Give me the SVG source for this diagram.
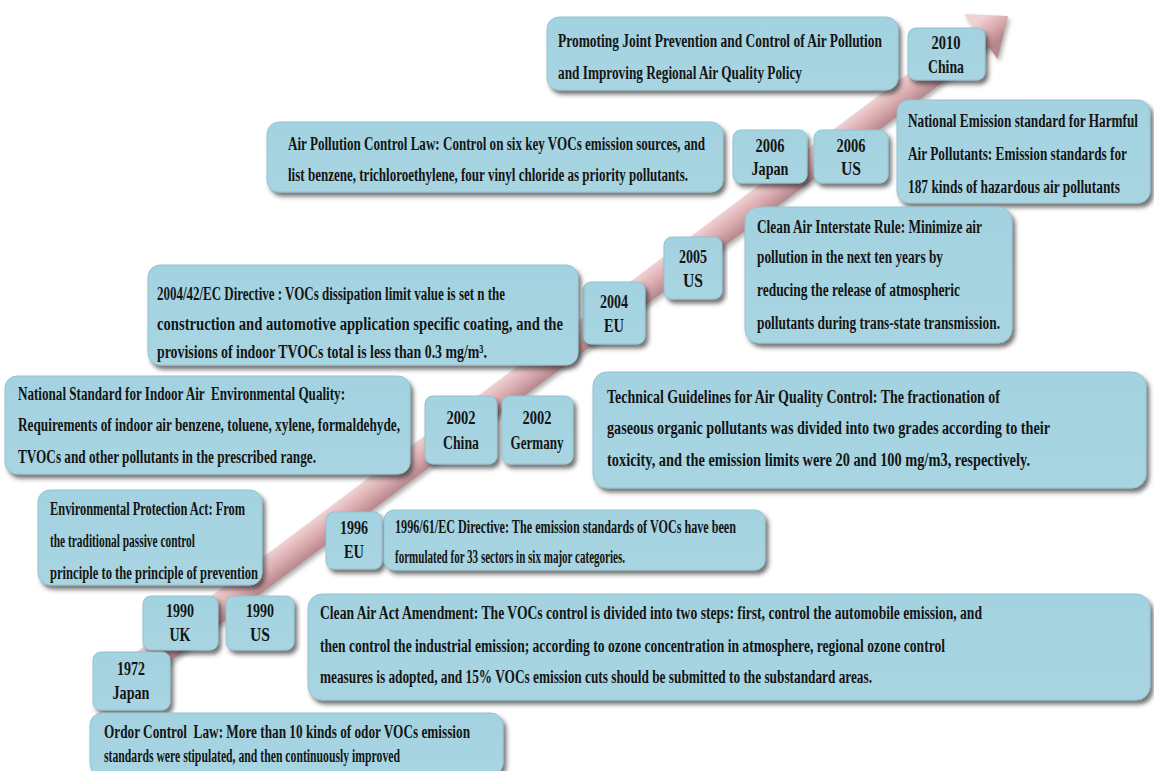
<svg xmlns="http://www.w3.org/2000/svg" width="1154" height="771" viewBox="0 0 1154 771">
<defs>
<filter id="sh" x="-10%" y="-20%" width="120%" height="150%">
<feDropShadow dx="3" dy="4" stdDeviation="2.2" flood-color="#2a2a2a" flood-opacity="0.65"/>
</filter>
<filter id="ash" x="-5%" y="-5%" width="110%" height="110%">
<feDropShadow dx="2" dy="3" stdDeviation="2" flood-color="#555" flood-opacity="0.45"/>
</filter>
<linearGradient id="ag" gradientUnits="userSpaceOnUse" x1="126.6" y1="659.2" x2="143.4" y2="681.6">
<stop offset="0" stop-color="#efd3d4"/>
<stop offset="0.5" stop-color="#dcadb1"/>
<stop offset="1" stop-color="#b6878d"/>
</linearGradient>
<linearGradient id="bg" x1="0" y1="0" x2="0" y2="1">
<stop offset="0" stop-color="#a3d2e0"/>
<stop offset="1" stop-color="#a9d5e2"/>
</linearGradient>
</defs>
<style>
.box{fill:url(#bg);stroke:#93c3d1;stroke-width:1;filter:url(#sh)}
.t{font-family:"Liberation Serif","Times New Roman",serif;font-weight:bold;font-size:13.5px;fill:#141414}
.y{font-family:"Liberation Serif","Times New Roman",serif;font-weight:bold;font-size:19px;fill:#141414;text-anchor:middle}
</style>
<rect width="1154" height="771" fill="#ffffff"/>
<g id="connectors">
<polygon id="timeline-arrow" points="126.6,659.2 972.4,25.2 964,14 1008,16 997.6,58.8 989.2,47.6 143.4,681.6" fill="url(#ag)" filter="url(#ash)"/>
</g>
<g id="n2010text">
<rect class="box" x="547" y="17" width="351" height="73" rx="12"/>
<text class="t" x="558" y="47" transform="matrix(1 0 0 1.42 0 -19.74)" textLength="324" lengthAdjust="spacingAndGlyphs">Promoting Joint Prevention and Control of Air Pollution</text>
<text class="t" x="558" y="79" transform="matrix(1 0 0 1.42 0 -33.18)" textLength="244" lengthAdjust="spacingAndGlyphs">and Improving Regional Air Quality Policy</text>
</g>
<g id="n2010">
<rect class="box" x="908" y="28" width="77" height="52" rx="8"/>
<text class="y" x="946" y="49" textLength="29" lengthAdjust="spacingAndGlyphs">2010</text>
<text class="y" x="946" y="73" textLength="36" lengthAdjust="spacingAndGlyphs">China</text>
</g>
<g id="n2006jptext">
<rect class="box" x="267" y="122" width="456" height="70" rx="12"/>
<text class="t" x="288" y="150" transform="matrix(1 0 0 1.42 0 -63)" textLength="417" lengthAdjust="spacingAndGlyphs">Air Pollution Control Law: Control on six key VOCs emission sources, and</text>
<text class="t" x="288" y="181" transform="matrix(1 0 0 1.42 0 -76.02)" textLength="400" lengthAdjust="spacingAndGlyphs">list benzene, trichloroethylene, four vinyl chloride as priority pollutants.</text>
</g>
<g id="n2006jp">
<rect class="box" x="733" y="130" width="74" height="53" rx="8"/>
<text class="y" x="770" y="152" textLength="29" lengthAdjust="spacingAndGlyphs">2006</text>
<text class="y" x="770" y="175" textLength="37" lengthAdjust="spacingAndGlyphs">Japan</text>
</g>
<g id="n2006us">
<rect class="box" x="814" y="130" width="74" height="53" rx="8"/>
<text class="y" x="851" y="152" textLength="29" lengthAdjust="spacingAndGlyphs">2006</text>
<text class="y" x="851" y="175" textLength="20" lengthAdjust="spacingAndGlyphs">US</text>
</g>
<g id="n2006ustext">
<rect class="box" x="897" y="100" width="253" height="103" rx="12"/>
<text class="t" x="908" y="127" transform="matrix(1 0 0 1.42 0 -53.34)" textLength="230" lengthAdjust="spacingAndGlyphs">National Emission standard for Harmful</text>
<text class="t" x="908" y="160" transform="matrix(1 0 0 1.42 0 -67.2)" textLength="219" lengthAdjust="spacingAndGlyphs">Air Pollutants: Emission standards for</text>
<text class="t" x="908" y="193" transform="matrix(1 0 0 1.42 0 -81.06)" textLength="212" lengthAdjust="spacingAndGlyphs">187 kinds of hazardous air pollutants</text>
</g>
<g id="n2005ustext">
<rect class="box" x="745" y="207" width="267" height="136" rx="14"/>
<text class="t" x="757" y="233" transform="matrix(1 0 0 1.42 0 -97.86)" textLength="225" lengthAdjust="spacingAndGlyphs">Clean Air Interstate Rule: Minimize air</text>
<text class="t" x="757" y="263" transform="matrix(1 0 0 1.42 0 -110.46)" textLength="186" lengthAdjust="spacingAndGlyphs">pollution in the next ten years by</text>
<text class="t" x="757" y="296" transform="matrix(1 0 0 1.42 0 -124.32)" textLength="203" lengthAdjust="spacingAndGlyphs">reducing the release of atmospheric</text>
<text class="t" x="757" y="329" transform="matrix(1 0 0 1.42 0 -138.18)" textLength="243" lengthAdjust="spacingAndGlyphs">pollutants during trans-state transmission.</text>
</g>
<g id="n2005us">
<rect class="box" x="664" y="237" width="58" height="62" rx="8"/>
<text class="y" x="693" y="263" textLength="28" lengthAdjust="spacingAndGlyphs">2005</text>
<text class="y" x="693" y="287" textLength="20" lengthAdjust="spacingAndGlyphs">US</text>
</g>
<g id="n2004eu">
<rect class="box" x="583" y="282" width="62" height="62" rx="8"/>
<text class="y" x="614" y="308" textLength="28" lengthAdjust="spacingAndGlyphs">2004</text>
<text class="y" x="614" y="332" textLength="20" lengthAdjust="spacingAndGlyphs">EU</text>
</g>
<g id="n2004eutext">
<rect class="box" x="148" y="265" width="430" height="100" rx="12"/>
<text class="t" x="157" y="300" transform="matrix(1 0 0 1.42 0 -126)" textLength="348" lengthAdjust="spacingAndGlyphs">2004/42/EC Directive : VOCs dissipation limit value is set n the</text>
<text class="t" x="157" y="330" transform="matrix(1 0 0 1.42 0 -138.6)" textLength="406" lengthAdjust="spacingAndGlyphs">construction and automotive application specific coating, and the</text>
<text class="t" x="157" y="358" transform="matrix(1 0 0 1.42 0 -150.36)" textLength="330" lengthAdjust="spacingAndGlyphs">provisions of indoor TVOCs total is less than 0.3 mg/m³.</text>
</g>
<g id="n2002cntext">
<rect class="box" x="5" y="376" width="405" height="98" rx="12"/>
<text class="t" x="18" y="400" transform="matrix(1 0 0 1.42 0 -168)" textLength="327" lengthAdjust="spacingAndGlyphs" xml:space="preserve">National Standard for Indoor Air  Environmental Quality:</text>
<text class="t" x="18" y="431" transform="matrix(1 0 0 1.42 0 -181.02)" textLength="382" lengthAdjust="spacingAndGlyphs">Requirements of indoor air benzene, toluene, xylene, formaldehyde,</text>
<text class="t" x="18" y="463" transform="matrix(1 0 0 1.42 0 -194.46)" textLength="298" lengthAdjust="spacingAndGlyphs">TVOCs and other pollutants in the prescribed range.</text>
</g>
<g id="n2002cn">
<rect class="box" x="425" y="396" width="72" height="68" rx="8"/>
<text class="y" x="461" y="424" textLength="29" lengthAdjust="spacingAndGlyphs">2002</text>
<text class="y" x="461" y="449" textLength="36" lengthAdjust="spacingAndGlyphs">China</text>
</g>
<g id="n2002de">
<rect class="box" x="502" y="396" width="71" height="68" rx="8"/>
<text class="y" x="537" y="424" textLength="29" lengthAdjust="spacingAndGlyphs">2002</text>
<text class="y" x="537" y="449" textLength="53" lengthAdjust="spacingAndGlyphs">Germany</text>
</g>
<g id="n2002detext">
<rect class="box" x="593" y="372" width="553" height="116" rx="14"/>
<text class="t" x="607" y="403" transform="matrix(1 0 0 1.42 0 -169.26)" textLength="393" lengthAdjust="spacingAndGlyphs">Technical Guidelines for Air Quality Control: The fractionation of</text>
<text class="t" x="607" y="434" transform="matrix(1 0 0 1.42 0 -182.28)" textLength="443" lengthAdjust="spacingAndGlyphs">gaseous organic pollutants was divided into two grades according to their</text>
<text class="t" x="607" y="466" transform="matrix(1 0 0 1.42 0 -195.72)" textLength="423" lengthAdjust="spacingAndGlyphs">toxicity, and the emission limits were 20 and 100 mg/m3, respectively.</text>
</g>
<g id="n1990uktext">
<rect class="box" x="38" y="490" width="224" height="95" rx="12"/>
<text class="t" x="50" y="515" transform="matrix(1 0 0 1.42 0 -216.3)" textLength="195" lengthAdjust="spacingAndGlyphs">Environmental Protection Act: From</text>
<text class="t" x="50" y="547" transform="matrix(1 0 0 1.42 0 -229.74)" textLength="145" lengthAdjust="spacingAndGlyphs">the traditional passive control</text>
<text class="t" x="50" y="579" transform="matrix(1 0 0 1.42 0 -243.18)" textLength="208" lengthAdjust="spacingAndGlyphs">principle to the principle of prevention</text>
</g>
<g id="n1996eu">
<rect class="box" x="326" y="512" width="56" height="57" rx="8"/>
<text class="y" x="354" y="534" textLength="28" lengthAdjust="spacingAndGlyphs">1996</text>
<text class="y" x="354" y="558" textLength="20" lengthAdjust="spacingAndGlyphs">EU</text>
</g>
<g id="n1996eutext">
<rect class="box" x="384" y="510" width="381" height="60" rx="10"/>
<text class="t" x="395" y="533" transform="matrix(1 0 0 1.42 0 -223.86)" textLength="341" lengthAdjust="spacingAndGlyphs">1996/61/EC Directive: The emission standards of VOCs have been</text>
<text class="t" x="395" y="563" transform="matrix(1 0 0 1.42 0 -236.46)" textLength="230" lengthAdjust="spacingAndGlyphs">formulated for 33 sectors in six major categories.</text>
</g>
<g id="n1990uk">
<rect class="box" x="143" y="596" width="75" height="54" rx="8"/>
<text class="y" x="180" y="617" textLength="28" lengthAdjust="spacingAndGlyphs">1990</text>
<text class="y" x="180" y="641" textLength="21" lengthAdjust="spacingAndGlyphs">UK</text>
</g>
<g id="n1990us">
<rect class="box" x="226" y="596" width="68" height="54" rx="8"/>
<text class="y" x="260" y="617" textLength="28" lengthAdjust="spacingAndGlyphs">1990</text>
<text class="y" x="260" y="641" textLength="20" lengthAdjust="spacingAndGlyphs">US</text>
</g>
<g id="n1990ustext">
<rect class="box" x="308" y="594" width="842" height="106" rx="14"/>
<text class="t" x="320" y="619" transform="matrix(1 0 0 1.42 0 -259.98)" textLength="662" lengthAdjust="spacingAndGlyphs">Clean Air Act Amendment: The VOCs control is divided into two steps: first, control the automobile emission, and</text>
<text class="t" x="320" y="652" transform="matrix(1 0 0 1.42 0 -273.84)" textLength="625" lengthAdjust="spacingAndGlyphs">then control the industrial emission; according to ozone concentration in atmosphere, regional ozone control</text>
<text class="t" x="320" y="683" transform="matrix(1 0 0 1.42 0 -286.86)" textLength="552" lengthAdjust="spacingAndGlyphs">measures is adopted, and 15% VOCs emission cuts should be submitted to the substandard areas.</text>
</g>
<g id="n1972jp">
<rect class="box" x="93" y="652" width="77" height="58" rx="8"/>
<text class="y" x="131" y="675" textLength="28" lengthAdjust="spacingAndGlyphs">1972</text>
<text class="y" x="131" y="699" textLength="37" lengthAdjust="spacingAndGlyphs">Japan</text>
</g>
<g id="n1972jptext">
<rect class="box" x="90" y="713" width="413" height="62" rx="12"/>
<text class="t" x="104" y="738" transform="matrix(1 0 0 1.42 0 -309.96)" textLength="366" lengthAdjust="spacingAndGlyphs" xml:space="preserve">Ordor Control  Law: More than 10 kinds of odor VOCs emission</text>
<text class="t" x="104" y="762" transform="matrix(1 0 0 1.42 0 -320.04)" textLength="296" lengthAdjust="spacingAndGlyphs">standards were stipulated, and then continuously improved</text>
</g>
</svg>
